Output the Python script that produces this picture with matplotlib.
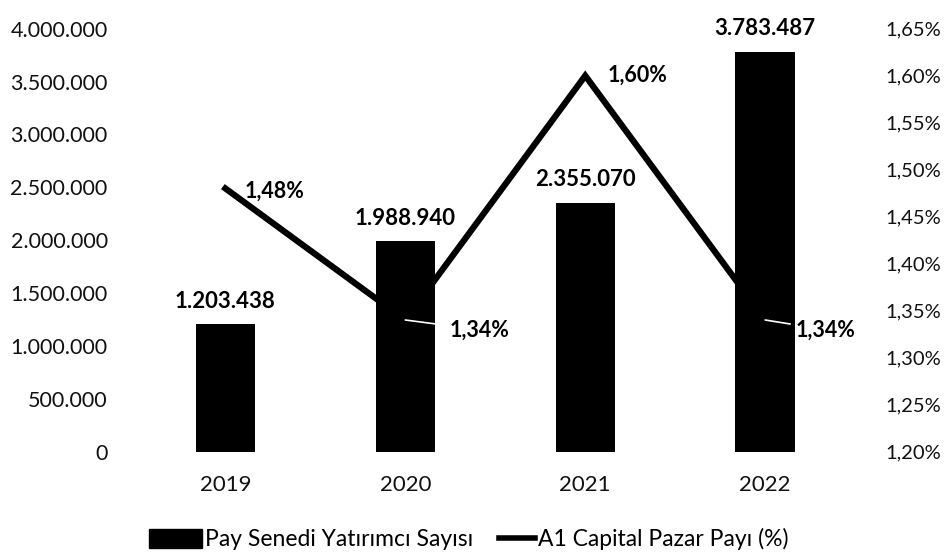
import matplotlib
matplotlib.use("Agg")
import numpy as np
import matplotlib.pyplot as plt
from matplotlib.ticker import FuncFormatter
from matplotlib.patches import Patch
from matplotlib.lines import Line2D
from matplotlib.legend_handler import HandlerLine2D

plt.rcParams['font.family'] = ['Lato', 'DejaVu Sans']

years = ["2019", "2020", "2021", "2022"]
investors = [1203438, 1988940, 2355070, 3783487]
share_pct = [1.48, 1.34, 1.60, 1.34]


def tr_int(v):
    return f"{int(round(v)):,}".replace(",", ".")


def tr_pct(v):
    return f"{v:.2f}".replace(".", ",") + "%"


class ShortLineHandler(HandlerLine2D):
    """Legend line drawn only on the right part of the handle box."""

    def get_xdata(self, legend, xdescent, ydescent, width, height, fontsize):
        xd = np.array([-xdescent + 0.32 * width, -xdescent + width])
        return xd, xd


fig = plt.figure(figsize=(9.47, 5.52), dpi=100)
ax = fig.add_axes([0.143, 0.182, 0.760, 0.766])
ax2 = ax.twinx()

x = list(range(len(years)))
ax.bar(x, investors, width=0.33, color="black", zorder=3)
ax.set_ylim(0, 4000000)
ax.set_yticks(range(0, 4000001, 500000))
ax.yaxis.set_major_formatter(FuncFormatter(lambda v, p: tr_int(v)))
ax.set_xlim(-0.5, len(years) - 0.5)
ax.set_xticks(x)
ax.set_xticklabels(years)

ax2.plot(x, share_pct, color="black", linewidth=4.5, solid_joinstyle="miter", zorder=2)
ax2.set_ylim(1.20, 1.65)
ax2.set_yticks([1.20 + 0.05 * i for i in range(10)])
ax2.yaxis.set_major_formatter(FuncFormatter(lambda v, p: tr_pct(v)))

for a in (ax, ax2):
    for s in a.spines.values():
        s.set_visible(False)
    a.tick_params(length=0, colors="#111111")
ax.tick_params(axis="y", labelsize=15.5, pad=20)
ax.tick_params(axis="x", labelsize=16, pad=17)
ax2.tick_params(axis="y", labelsize=14.5, pad=22)

# bar value labels
for xi, v in zip(x, investors):
    ax.annotate(tr_int(v), (xi, v), xytext=(0, 9), textcoords="offset points",
                ha="center", va="bottom", fontsize=16, fontweight="bold")

# line value labels
ax2.annotate(tr_pct(share_pct[0]), (x[0], share_pct[0]), xytext=(14, -2),
             textcoords="offset points", ha="left", va="center",
             fontsize=15.5, fontweight="bold")
ax2.annotate(tr_pct(share_pct[2]), (x[2], share_pct[2]), xytext=(16, 0),
             textcoords="offset points", ha="left", va="center",
             fontsize=15.5, fontweight="bold")
for i, dx in ((1, 32), (3, 22)):
    ax2.annotate(tr_pct(share_pct[i]), (x[i], share_pct[i]), xytext=(dx, -7),
                 textcoords="offset points", ha="left", va="center",
                 fontsize=15.5, fontweight="bold",
                 arrowprops=dict(arrowstyle="-", color="white", lw=1.2,
                                 shrinkA=2, shrinkB=0))

line_handle = Line2D([0], [0], color="black", linewidth=4)
handles = [Patch(facecolor="black", edgecolor="black"), line_handle]
fig.legend(handles, ["Pay Senedi Yatırımcı Sayısı", "A1 Capital Pazar Payı (%)"],
           loc="center", bbox_to_anchor=(0.495, 0.023), ncol=2, frameon=False,
           fontsize=16.5, handlelength=2.3, handleheight=0.9, handletextpad=0.12,
           columnspacing=0.4, handler_map={line_handle: ShortLineHandler()})

fig.savefig("out.png", dpi=100, facecolor="white")
